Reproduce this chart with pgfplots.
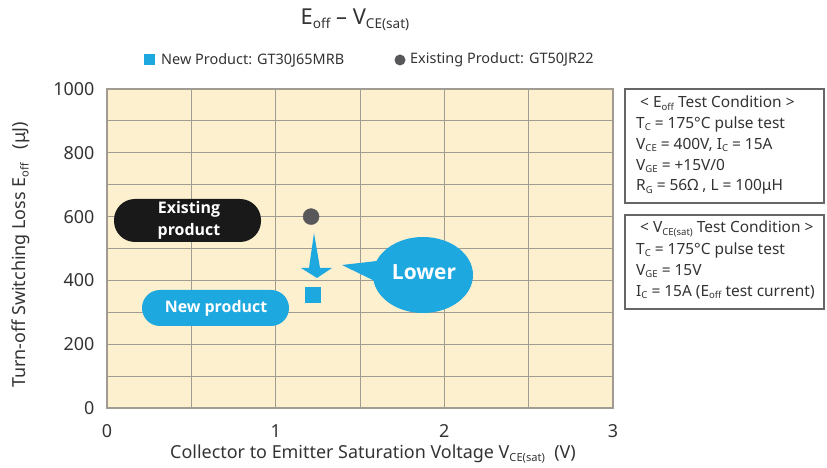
\documentclass[border=0pt]{standalone}
\usepackage{graphicx}
\usepackage{pgfplots}
\pgfplotsset{compat=1.18}
\usepackage{fontspec}
\setmainfont{Noto Sans}
\newfontfamily\ob{Open Sans}
\definecolor{bg}{HTML}{FDF0CE}
\definecolor{cblue}{HTML}{1DA8E0}
\definecolor{cgray}{HTML}{58585A}
\definecolor{gridc}{HTML}{A09C94}
\definecolor{txt}{HTML}{333333}
\newcommand\sub[1]{\raisebox{-0.3ex}{\scalebox{0.62}{#1}}}
\newcommand\fs[1]{\fontsize{#1}{#1}\selectfont}
\begin{document}
\begin{tikzpicture}
\begin{axis}[at={(107bp,60bp)}, anchor=south west, scale only axis,
  width=506bp, height=319bp,
  xmin=0, xmax=3, ymin=0, ymax=1000,
  xtick={0,1,2,3}, minor xtick={0.5,1.5,2.5},
  ytick={0,200,...,1000}, minor ytick={100,300,...,900},
  grid=both,
  major grid style={draw=gridc, line width=0.8pt},
  minor grid style={draw=gridc, line width=0.8pt},
  axis background/.style={fill=bg},
  axis line style={draw=gridc, line width=1.2pt},
  tick style={draw=none},
  ticklabel style={font=\fs{18}, text=txt},
  /pgf/number format/assume math mode=true,
  /pgf/number format/set thousands separator={},
  yticklabel style={xshift=-9bp},
  xticklabel style={yshift=-13bp},
  clip=false]
\addplot[only marks, mark=*, mark size=8bp, draw=cgray, fill=cgray] coordinates {(1.21,600)};
\addplot[only marks, mark=square*, mark size=7.5bp, draw=cblue, fill=cblue] coordinates {(1.22,355)};
\end{axis}
\begin{scope}[x=1bp, y=-1bp, shift={(0,468bp)}]
\path (0,0) rectangle (827,468);
% title and legend
\node[text=txt, font=\fs{22}] at (355,20) {E\sub{off} – V\sub{CE(sat)}};
\fill[cblue] (144,54) rectangle (155,65);
\node[anchor=west, text=txt, font=\fs{14.5}, inner sep=0pt] at (161,60) {New Product: GT30J65MRB};
\fill[cgray] (400,60) circle (5.5);
\node[anchor=west, text=txt, font=\fs{14.5}, inner sep=0pt] at (410,60) {Existing Product: GT50JR22};
% axis labels
\node[rotate=90, text=txt, font=\fs{18}] at (21,255) {Turn-off Switching Loss E\sub{off}\ \ \ (μJ)};
\node[text=txt, font=\fs{18}] at (373,454) {Collector to Emitter Saturation Voltage V\sub{CE(sat)}\ \ (V)};
% annotations
\fill[black!90, rounded corners=21bp] (114,199) rectangle (261,242);
\node[text=white, font=\ob\fs{16}\bfseries, align=center] at (189,220) {Existing\\[6pt]product};
\fill[cblue, rounded corners=18bp] (142,290) rectangle (289,326);
\node[text=white, font=\ob\fs{16}\bfseries] at (216,308) {New product};
\fill[cblue] (423,275) ellipse [x radius=50, y radius=38];
\fill[cblue] (342,265) -- (390,259.5) -- (385,286) -- cycle;
\node[text=white, font=\ob\fs{21}\bfseries] at (424,272) {Lower};
\fill[cblue] (314,233) -- (320,268) -- (332,268) -- (317,278) -- (301,268) -- (309,268) -- cycle;
% condition boxes
\draw[draw=black!60, line width=1.2pt, fill=white] (625,89) rectangle (824,203);
\draw[draw=black!60, line width=1.2pt, fill=white] (625,215) rectangle (824,309);
\begin{scope}[every node/.style={anchor=west, text=txt, font=\fs{15.5}, inner sep=0pt}]
\node at (640,103) {<\ E\sub{off} Test Condition\ >};
\node at (636,124) {T\sub{C} =\ 175°C pulse test};
\node at (636,145) {V\sub{CE} =\ 400V, I\sub{C} = 15A};
\node at (636,166) {V\sub{GE} =\ +15V/0};
\node at (636,187) {R\sub{G} = 56Ω , L = 100μH};
\node at (640,229) {<\ V\sub{CE(sat)} Test Condition\ >};
\node at (636,250) {T\sub{C} =\ 175°C pulse test};
\node at (636,271) {V\sub{GE} =\ 15V};
\node at (636,292) {I\sub{C} =\ 15A (E\sub{off} test current)};
\end{scope}
\end{scope}
\end{tikzpicture}
\end{document}
